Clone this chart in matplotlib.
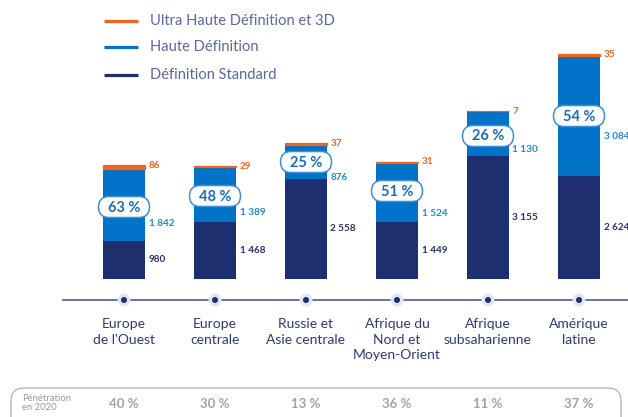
import matplotlib
matplotlib.use("Agg")
import matplotlib.pyplot as plt
from matplotlib.patches import FancyBboxPatch, Circle

plt.rcParams['font.family'] = ['Lato', 'DejaVu Sans']

categories = ["Europe\nde l'Ouest", "Europe\ncentrale", "Russie et\nAsie centrale",
              "Afrique du\nNord et\nMoyen-Orient", "Afrique\nsubsaharienne", "Amérique\nlatine"]
sd = [980, 1468, 2558, 1449, 3155, 2624]
hd = [1842, 1389, 876, 1524, 1130, 3084]
uhd = [86, 29, 37, 31, 7, 35]
hd_share = ["63 %", "48 %", "25 %", "51 %", "26 %", "54 %"]
penetration = ["40 %", "30 %", "13 %", "36 %", "11 %", "37 %"]
legend_labels = ["Ultra Haute Définition et 3D", "Haute Définition", "Définition Standard"]

# styling
C_SD = "#1e2f70"
C_HD = "#0072c8"
C_UHD = "#f0641e"
C_SD_TXT = "#26316b"
C_HD_TXT = "#2386d6"
C_TXT = "#2d3a7a"
C_LEG = "#5a67a0"
hd_label_frac = [0.24, 0.17, 0.03, 0.15, 0.13, 0.33]
box_y_px = [207, 196, 162, 191, 136, 116]   # from top, pixels

W, H = 628, 417
fig = plt.figure(figsize=(W / 100, H / 100), dpi=100)
fig.patch.set_facecolor("white")

# main axes (data coords)
ax = fig.add_axes([0, 0, 1, 1])
step = 91.0
x0 = 124.0
base_px = 279.0
upp = 25.575  # units per pixel
ax.set_xlim(-x0 / step, (W - x0) / step)
ax.set_ylim(-(H - base_px) * upp, base_px * upp)
ax.axis("off")

# overlay pixel axes (y from top)
ov = fig.add_axes([0, 0, 1, 1], zorder=5)
ov.set_xlim(0, W)
ov.set_ylim(H, 0)
ov.axis("off")
ov.patch.set_alpha(0)

xs = list(range(len(categories)))
bw = 42 / step
tops_hd = [a + b for a, b in zip(sd, hd)]
ax.bar(xs, sd, width=bw, color=C_SD, linewidth=0)
ax.bar(xs, hd, bottom=sd, width=bw, color=C_HD, linewidth=0)
ax.bar(xs, uhd, bottom=tops_hd, width=bw, color=C_UHD, edgecolor=C_UHD, linewidth=0.9)


def fmt(v):
    return f"{v:,}".replace(",", " ")


lx = bw / 2 + 3.5 / step
for i in xs:
    ax.text(i + lx, sd[i] / 2, fmt(sd[i]), color=C_SD_TXT, fontsize=7.2, fontweight="bold",
            va="center", ha="left")
    ax.text(i + lx, sd[i] + hd[i] * hd_label_frac[i], fmt(hd[i]), color=C_HD_TXT, fontsize=7.2,
            fontweight="bold", va="center", ha="left")
    ax.text(i + lx, sd[i] + hd[i] + uhd[i], fmt(uhd[i]), color=C_UHD, fontsize=7.2,
            fontweight="bold", va="center", ha="left")

# percentage pills
for i in xs:
    cx = x0 + step * i
    cy = box_y_px[i]
    bw_px, bh_px = 51, 21
    p = FancyBboxPatch((cx - bw_px / 2, cy - bh_px / 2), bw_px, bh_px,
                       boxstyle=f"round,pad=0,rounding_size={bh_px/2}",
                       facecolor="white", edgecolor="#3d8fd8", linewidth=1.1)
    ov.add_patch(p)
    ov.text(cx, cy + 0.5, hd_share[i], color="#1a6cc0", fontsize=10.5, fontweight="bold",
            ha="center", va="center")

# axis line with dots
axis_y = 300
ov.plot([62, W], [axis_y, axis_y], color="#4b5a9c", linewidth=1.2, solid_capstyle="butt")
for i in xs:
    cx = x0 + step * i
    ov.add_patch(Circle((cx, axis_y), 6.5, facecolor="#e2e6f1", edgecolor="none", zorder=3))
    ov.add_patch(Circle((cx, axis_y), 3.0, facecolor=C_SD, edgecolor="none", zorder=4))
    ov.text(cx, 318, categories[i], color=C_TXT, fontsize=10, ha="center", va="top",
            linespacing=1.35)

# legend
leg_colors = [C_UHD, C_HD, C_SD]
leg_y = [21, 47, 75]
for c, y, lab in zip(leg_colors, leg_y, legend_labels):
    ov.plot([104, 138], [y, y], color=c, linewidth=2.3, solid_capstyle="butt")
    ov.text(150, y, lab, color=C_LEG, fontsize=10.5, ha="left", va="center")

# penetration row
ov.add_patch(FancyBboxPatch((11, 388), 610, 60, boxstyle="round,pad=0,rounding_size=13",
                            facecolor="none", edgecolor="#b0b0b0", linewidth=0.9))
ov.text(22, 403, "Pénétration\nen 2020", color="#9a9a9a", fontsize=6.8, ha="left",
        va="center", linespacing=1.1)
for i in xs:
    ov.text(x0 + step * i, 404, penetration[i], color="#a2a2a2", fontsize=9.5,
            fontweight="bold", ha="center", va="center")

fig.savefig("out.png", dpi=100, facecolor="white")
